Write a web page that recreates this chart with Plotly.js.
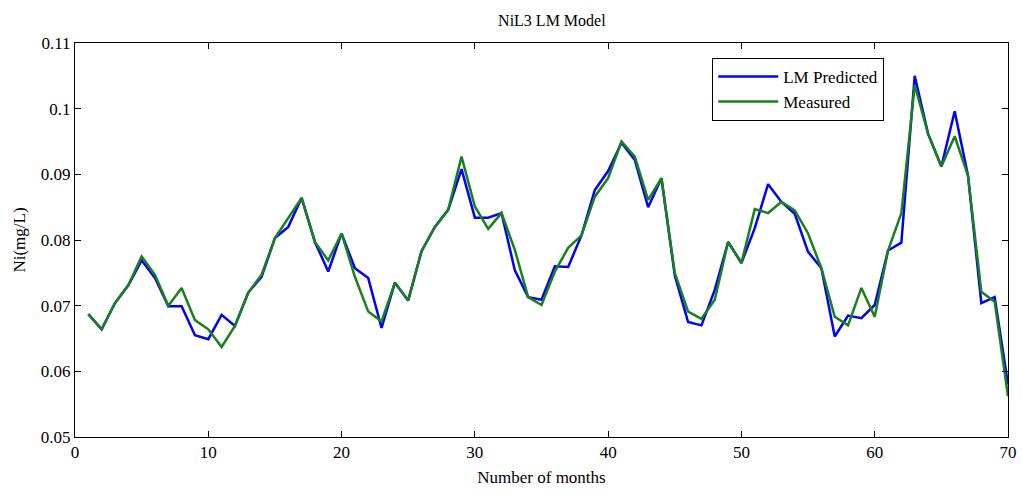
<!DOCTYPE html>
<html><head><meta charset="utf-8">
<script src="https://cdn.plot.ly/plotly-3.0.1.min.js"></script>
<style>body{margin:0;background:#fff}#c{width:1022px;height:495px}</style>
</head><body><div id="c"></div>
<script>
const months = Array.from({length:70},(_,i)=>i+1);
const lmPredicted = [0.0687,0.0664,0.0704,0.0731,0.0769,0.0742,0.0699,0.0699,0.0655,0.0649,
0.0686,0.0669,0.0720,0.0744,0.0803,0.0820,0.0864,0.0797,0.0752,0.0810,
0.0757,0.0742,0.0666,0.0735,0.0708,0.0783,0.0820,0.0846,0.0908,0.0834,
0.0834,0.0841,0.0754,0.0713,0.0709,0.0760,0.0759,0.0807,0.0876,0.0905,
0.0948,0.0922,0.0850,0.0894,0.0746,0.0675,0.0670,0.0724,0.0797,0.0765,
0.0818,0.0885,0.0858,0.0840,0.0782,0.0757,0.0653,0.0685,0.0681,0.0701,
0.0784,0.0796,0.1050,0.0962,0.0912,0.0996,0.0898,0.0704,0.0713,0.0580];
const measured = [0.0687,0.0664,0.0704,0.0731,0.0775,0.0747,0.0700,0.0727,0.0678,0.0664,
0.0637,0.0669,0.0720,0.0747,0.0803,0.0834,0.0864,0.0797,0.0769,0.0810,
0.0744,0.0691,0.0676,0.0735,0.0708,0.0783,0.0820,0.0846,0.0927,0.0851,
0.0817,0.0841,0.0785,0.0713,0.0701,0.0752,0.0788,0.0807,0.0866,0.0894,
0.0950,0.0927,0.0861,0.0894,0.0750,0.0691,0.0680,0.0709,0.0797,0.0765,
0.0847,0.0841,0.0858,0.0845,0.0810,0.0757,0.0683,0.0670,0.0727,0.0683,
0.0784,0.0841,0.1036,0.0962,0.0912,0.0958,0.0898,0.0721,0.0706,0.0562];

const font = {family:'"Liberation Serif","Times New Roman",serif', color:'#000', size:17};
const traces = [
 {x:months, y:lmPredicted, type:'scatter', mode:'lines', name:'LM Predicted', line:{color:'#0000ff', width:2.5}},
 {x:months, y:measured, type:'scatter', mode:'lines', name:'Measured', line:{color:'#1a801a', width:2.5}}
];
const axisCommon = {showgrid:false, zeroline:false, showline:true, linecolor:'#000', linewidth:1, mirror:'ticks', ticks:'inside', ticklen:6, tickcolor:'#000', tickfont:font};
const layout = {
 width:1022, height:495, paper_bgcolor:'#fff', plot_bgcolor:'#fff', font:font,
 margin:{l:75, r:14, t:43, b:58},
 title:{text:'NiL3 LM Model', font:{...font, size:16}, x:0.54, xanchor:'center', y:0.97, yanchor:'top'},
 xaxis:{...axisCommon, range:[0,70], dtick:10, tick0:0, title:{text:'Number of months', font:font, standoff:9}},
 yaxis:{...axisCommon, range:[0.05,0.11], dtick:0.01, tick0:0.05, title:{text:'Ni(mg/L)', font:font, standoff:10}},
 showlegend:true,
 legend:{x:0.683, y:0.962, xanchor:'left', yanchor:'top', bordercolor:'#000', borderwidth:1, bgcolor:'#fff', font:font, itemwidth:60, tracegroupgap:0}
};
Plotly.newPlot('c', traces, layout, {displayModeBar:false, staticPlot:true});
</script></body></html>
